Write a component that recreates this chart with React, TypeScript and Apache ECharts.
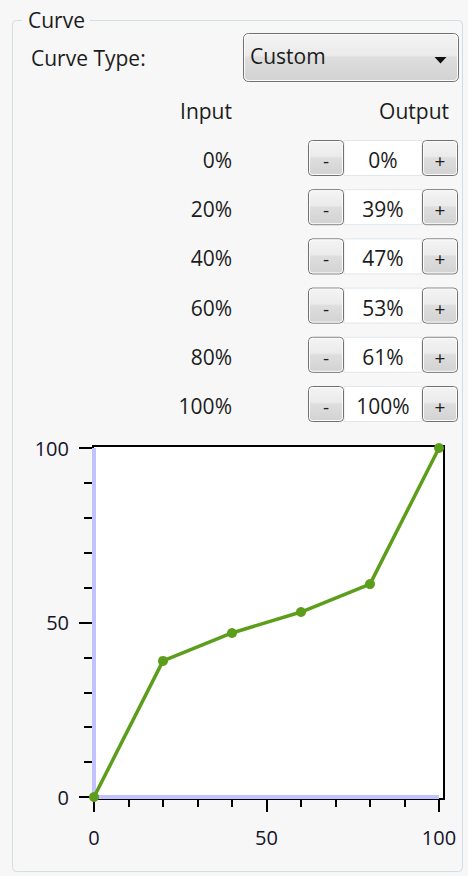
import React, { useEffect, useRef } from "react";
import * as echarts from "echarts";

// ---- data ----
const inputX = [0, 20, 40, 60, 80, 100];
const outputY = [0, 39, 47, 53, 61, 100];
const inputLabels = ["0%", "20%", "40%", "60%", "80%", "100%"];
const outputLabels = ["0%", "39%", "47%", "53%", "61%", "100%"];
const referenceX = [0, 0, 100];
const referenceY = [100, 0, 0];
const axisMin = 0;
const axisMax = 100;
const axisInterval = 50;
const minorSplits = 5;
const groupTitle = "Curve";
const curveTypeLabel = "Curve Type:";
const curveTypeValue = "Custom";
const headerInput = "Input";
const headerOutput = "Output";
const minusLabel = "-";
const plusLabel = "+";

const FONT = "'Open Sans', 'Noto Sans', sans-serif";
const TEXT = "#1c1c1c";

function buttonFill() {
  return new echarts.graphic.LinearGradient(0, 0, 0, 1, [
    { offset: 0, color: "#f4f4f4" },
    { offset: 0.45, color: "#ebebeb" },
    { offset: 0.5, color: "#dedede" },
    { offset: 1, color: "#d2d2d2" },
  ]);
}

function txt(text: string, x: number, y: number, align: string, size = 21, color = TEXT) {
  return {
    type: "text",
    x,
    y,
    z: 10,
    style: {
      text,
      fill: color,
      fontSize: size,
      fontFamily: FONT,
      align,
      verticalAlign: "middle",
    },
  };
}

export default function App() {
  const ref = useRef<HTMLDivElement>(null);
  useEffect(() => {
    if (!ref.current) return;
    const chart = echarts.init(ref.current, undefined, { renderer: "svg" });

    const graphics: any[] = [];
    // group box
    graphics.push({
      type: "rect",
      z: 0,
      shape: { x: 12.5, y: 20.5, width: 450, height: 851, r: 4 },
      style: { fill: "#f7f7f7", stroke: "#d3dde4", lineWidth: 1 },
    });
    graphics.push({
      type: "rect",
      z: 1,
      shape: { x: 22, y: 12, width: 68, height: 14 },
      style: { fill: "#f7f7f7" },
    });
    graphics.push(txt(groupTitle, 28, 20, "left"));
    graphics.push(txt(curveTypeLabel, 31, 58, "left"));
    // dropdown
    graphics.push({
      type: "rect",
      z: 2,
      shape: { x: 243.5, y: 33.5, width: 215, height: 48, r: 5 },
      style: { fill: buttonFill(), stroke: "#707070", lineWidth: 1 },
    });
    graphics.push({
      type: "rect",
      z: 3,
      shape: { x: 244.5, y: 34.5, width: 213, height: 46, r: 4 },
      style: { fill: "none", stroke: "#fbfbfb", lineWidth: 1 },
    });
    graphics.push(txt(curveTypeValue, 250, 56, "left"));
    graphics.push({
      type: "polygon",
      z: 4,
      shape: { points: [[434.5, 57], [446.5, 57], [440.5, 63.5]] },
      style: { fill: "#111" },
    });
    graphics.push(txt(headerInput, 206, 111, "center"));
    graphics.push(txt(headerOutput, 449, 111, "right"));

    inputLabels.forEach((lab, i) => {
      const top = 140 + i * 49.2;
      const cy = top + 18;
      graphics.push(txt(lab, 232, cy + 2, "right"));
      // text box
      graphics.push({
        type: "rect",
        z: 2,
        shape: { x: 344, y: top + 0.5, width: 78, height: 35 },
        style: { fill: "#ffffff", stroke: "#e1e7ec", lineWidth: 1 },
      });
      graphics.push(txt(outputLabels[i], 383, cy + 2, "center"));
      [308.5, 422.5].forEach((bx, k) => {
        graphics.push({
          type: "rect",
          z: 3,
          shape: { x: bx, y: top + 0.5, width: 35, height: 35, r: 4 },
          style: { fill: buttonFill(), stroke: "#707070", lineWidth: 1 },
        });
        graphics.push({
          type: "rect",
          z: 4,
          shape: { x: bx + 1, y: top + 1.5, width: 33, height: 33, r: 3 },
          style: { fill: "none", stroke: "#fcfcfc", lineWidth: 1 },
        });
        graphics.push(txt(k === 0 ? minusLabel : plusLabel, bx + 17.5, cy + 3, "center", 19, "#202020"));
      });
    });

    // chart white panel
    graphics.push({
      type: "rect",
      z: -1,
      zlevel: 0,
      shape: { x: 22, y: 429, width: 437, height: 437 },
      style: { fill: "#ffffff" },
    });

    const tickStyle = { color: "#000", width: 2 };
    const labelStyle = { fontSize: 20, fontFamily: FONT, color: "#14142a" };

    chart.setOption({
      animation: false,
      backgroundColor: "transparent",
      graphic: { elements: graphics },
      grid: [
        {
          left: 93,
          top: 446,
          width: 351,
          height: 353,
          show: true,
          borderColor: "#000",
          borderWidth: 2,
          backgroundColor: "#ffffff",
          z: 5,
        },
        { left: 94, top: 448, width: 345, height: 349, z: 6 },
      ],
      xAxis: [
        { gridIndex: 0, type: "value", show: false, min: 0, max: 1 },
        {
          gridIndex: 1,
          type: "value",
          min: axisMin,
          max: axisMax,
          interval: axisInterval,
          axisLine: { show: false },
          axisTick: { show: true, length: 15, lineStyle: tickStyle },
          minorTick: { show: true, splitNumber: minorSplits, length: 10, lineStyle: tickStyle },
          splitLine: { show: false },
          minorSplitLine: { show: false },
          axisLabel: { ...labelStyle, margin: 30 },
        },
      ],
      yAxis: [
        { gridIndex: 0, type: "value", show: false, min: 0, max: 1 },
        {
          gridIndex: 1,
          type: "value",
          min: axisMin,
          max: axisMax,
          interval: axisInterval,
          axisLine: { show: false },
          axisTick: { show: true, length: 15, lineStyle: tickStyle },
          minorTick: { show: true, splitNumber: minorSplits, length: 10, lineStyle: tickStyle },
          splitLine: { show: false },
          minorSplitLine: { show: false },
          axisLabel: { ...labelStyle, margin: 25 },
        },
      ],
      series: [
        {
          name: "Reference",
          type: "line",
          xAxisIndex: 1,
          yAxisIndex: 1,
          data: referenceX.map((x, i) => [x, referenceY[i]]),
          symbol: "none",
          clip: false,
          lineStyle: { color: "#c2c2ff", width: 4 },
          z: 7,
        },
        {
          name: "Curve",
          type: "line",
          xAxisIndex: 1,
          yAxisIndex: 1,
          data: inputX.map((x, i) => [x, outputY[i]]),
          symbol: "circle",
          symbolSize: 10,
          clip: false,
          itemStyle: { color: "#5c9e1c" },
          lineStyle: { color: "#5c9e1c", width: 3.5 },
          z: 8,
        },
      ],
    });

    return () => chart.dispose();
  }, []);

  return (
    <div
      ref={ref}
      style={{ position: "absolute", left: 0, top: 0, width: 468, height: 876, background: "#f7f7f7" }}
    />
  );
}
